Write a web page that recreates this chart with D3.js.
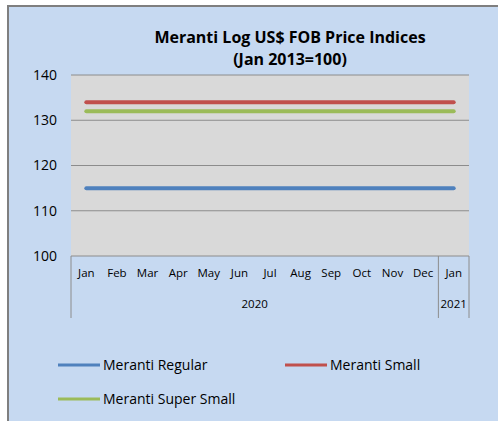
<!DOCTYPE html>
<html>
<head>
<meta charset="utf-8">
<script src="https://cdn.jsdelivr.net/npm/d3@7"></script>
<style>
  body { margin: 0; background: #ffffff; }
  svg { display: block; }
</style>
</head>
<body>
<svg id="chart" width="498" height="421"></svg>
<script>
// chart values
const months = ['Jan', 'Feb', 'Mar', 'Apr', 'May', 'Jun', 'Jul', 'Aug', 'Sep', 'Oct', 'Nov', 'Dec', 'Jan'];
const years = [{ label: '2020', from: 0, to: 11 }, { label: '2021', from: 12, to: 12 }];
const regular = [115, 115, 115, 115, 115, 115, 115, 115, 115, 115, 115, 115, 115];
const small = [134, 134, 134, 134, 134, 134, 134, 134, 134, 134, 134, 134, 134];
const superSmall = [132, 132, 132, 132, 132, 132, 132, 132, 132, 132, 132, 132, 132];
const yTicks = [100, 110, 120, 130, 140];
const titleLines = ['Meranti Log US$ FOB Price Indices', '(Jan 2013=100)'];

const series = [
    { name: 'Meranti Regular', values: regular, color: '#4f81bd' },
    { name: 'Meranti Small', values: small, color: '#c0504d' },
    { name: 'Meranti Super Small', values: superSmall, color: '#9bbb59' }
];

const font = "'Liberation Sans Narrow', 'Open Sans', sans-serif";
const svg = d3.select('#chart');

// chart area + border
svg.append('rect')
    .attr('x', 8).attr('y', 6)
    .attr('width', 498).attr('height', 421)
    .attr('fill', '#c6d9f1');
svg.append('path')
    .attr('d', 'M8,421V6H498')
    .attr('fill', 'none')
    .attr('stroke', '#7f7f7f')
    .attr('stroke-width', 2);

const plot = { left: 71, right: 469, top: 75, bottom: 256 };

const x = d3.scaleBand()
    .domain(d3.range(months.length))
    .range([plot.left, plot.right]);

const y = d3.scaleLinear()
    .domain([100, 140])
    .range([plot.bottom, plot.top]);

// plot area
svg.append('rect')
    .attr('x', plot.left).attr('y', plot.top)
    .attr('width', plot.right - plot.left)
    .attr('height', plot.bottom - plot.top)
    .attr('fill', '#d9d9d9');

// gridlines
svg.append('g')
    .selectAll('line')
    .data(yTicks)
    .join('line')
    .attr('x1', plot.left).attr('x2', plot.right)
    .attr('y1', d => y(d)).attr('y2', d => y(d))
    .attr('stroke', '#8c8c8c')
    .attr('stroke-width', 1);

// y axis labels
let yAxis = svg.append('g')
    .attr('transform', `translate(${plot.left - 14},0)`)
    .call(d3.axisLeft(y).tickValues(yTicks).tickSize(0).tickPadding(0));
yAxis.select('.domain').remove();
yAxis.selectAll('text')
    .attr('font-family', font)
    .attr('font-size', 14)
    .attr('fill', '#000');

// x axis month labels
let xAxis = svg.append('g')
    .attr('transform', `translate(0,${plot.bottom})`)
    .call(d3.axisBottom(x).tickFormat(i => months[i]).tickSize(0).tickPadding(13));
xAxis.select('.domain').remove();
xAxis.selectAll('text')
    .attr('font-family', font)
    .attr('font-size', 11.5)
    .attr('fill', '#000');

// year group dividers
const dividers = [0].concat(years.map(d => d.to + 1));
svg.append('g')
    .selectAll('line')
    .data(dividers)
    .join('line')
    .attr('x1', d => d < months.length ? x(d) : plot.right)
    .attr('x2', d => d < months.length ? x(d) : plot.right)
    .attr('y1', plot.bottom)
    .attr('y2', 318)
    .attr('stroke', '#8c8c8c')
    .attr('stroke-width', 1);

// year labels
svg.append('g')
    .selectAll('text')
    .data(years)
    .join('text')
    .attr('x', d => (x(d.from) + x(d.to) + x.bandwidth()) / 2)
    .attr('y', 308)
    .attr('text-anchor', 'middle')
    .attr('font-family', font)
    .attr('font-size', 11.5)
    .text(d => d.label);

// series lines
const line = d3.line()
    .x((d, i) => x(i) + x.bandwidth() / 2)
    .y(d => y(d));

svg.append('g')
    .selectAll('path')
    .data(series)
    .join('path')
    .attr('d', d => line(d.values))
    .attr('fill', 'none')
    .attr('stroke', d => d.color)
    .attr('stroke-width', 4)
    .attr('stroke-linecap', 'round');

// title
svg.append('text')
    .attr('x', 290)
    .attr('text-anchor', 'middle')
    .attr('font-family', font)
    .attr('font-weight', 'bold')
    .attr('font-size', 16)
    .selectAll('tspan')
    .data(titleLines)
    .join('tspan')
    .attr('x', 290)
    .attr('y', (d, i) => 43 + i * 22)
    .text(d => d);

// legend
const legendPos = [
    { x: 58, y: 365 },
    { x: 285, y: 365 },
    { x: 58, y: 399 }
];
const legend = svg.append('g')
    .selectAll('g')
    .data(series)
    .join('g')
    .attr('transform', (d, i) => `translate(${legendPos[i].x},${legendPos[i].y})`);
legend.append('line')
    .attr('x1', 0).attr('x2', 42)
    .attr('stroke', d => d.color)
    .attr('stroke-width', 3);
legend.append('text')
    .attr('x', 45)
    .attr('dy', '0.35em')
    .attr('font-family', font)
    .attr('font-size', 14)
    .text(d => d.name);
</script>
</body>
</html>
